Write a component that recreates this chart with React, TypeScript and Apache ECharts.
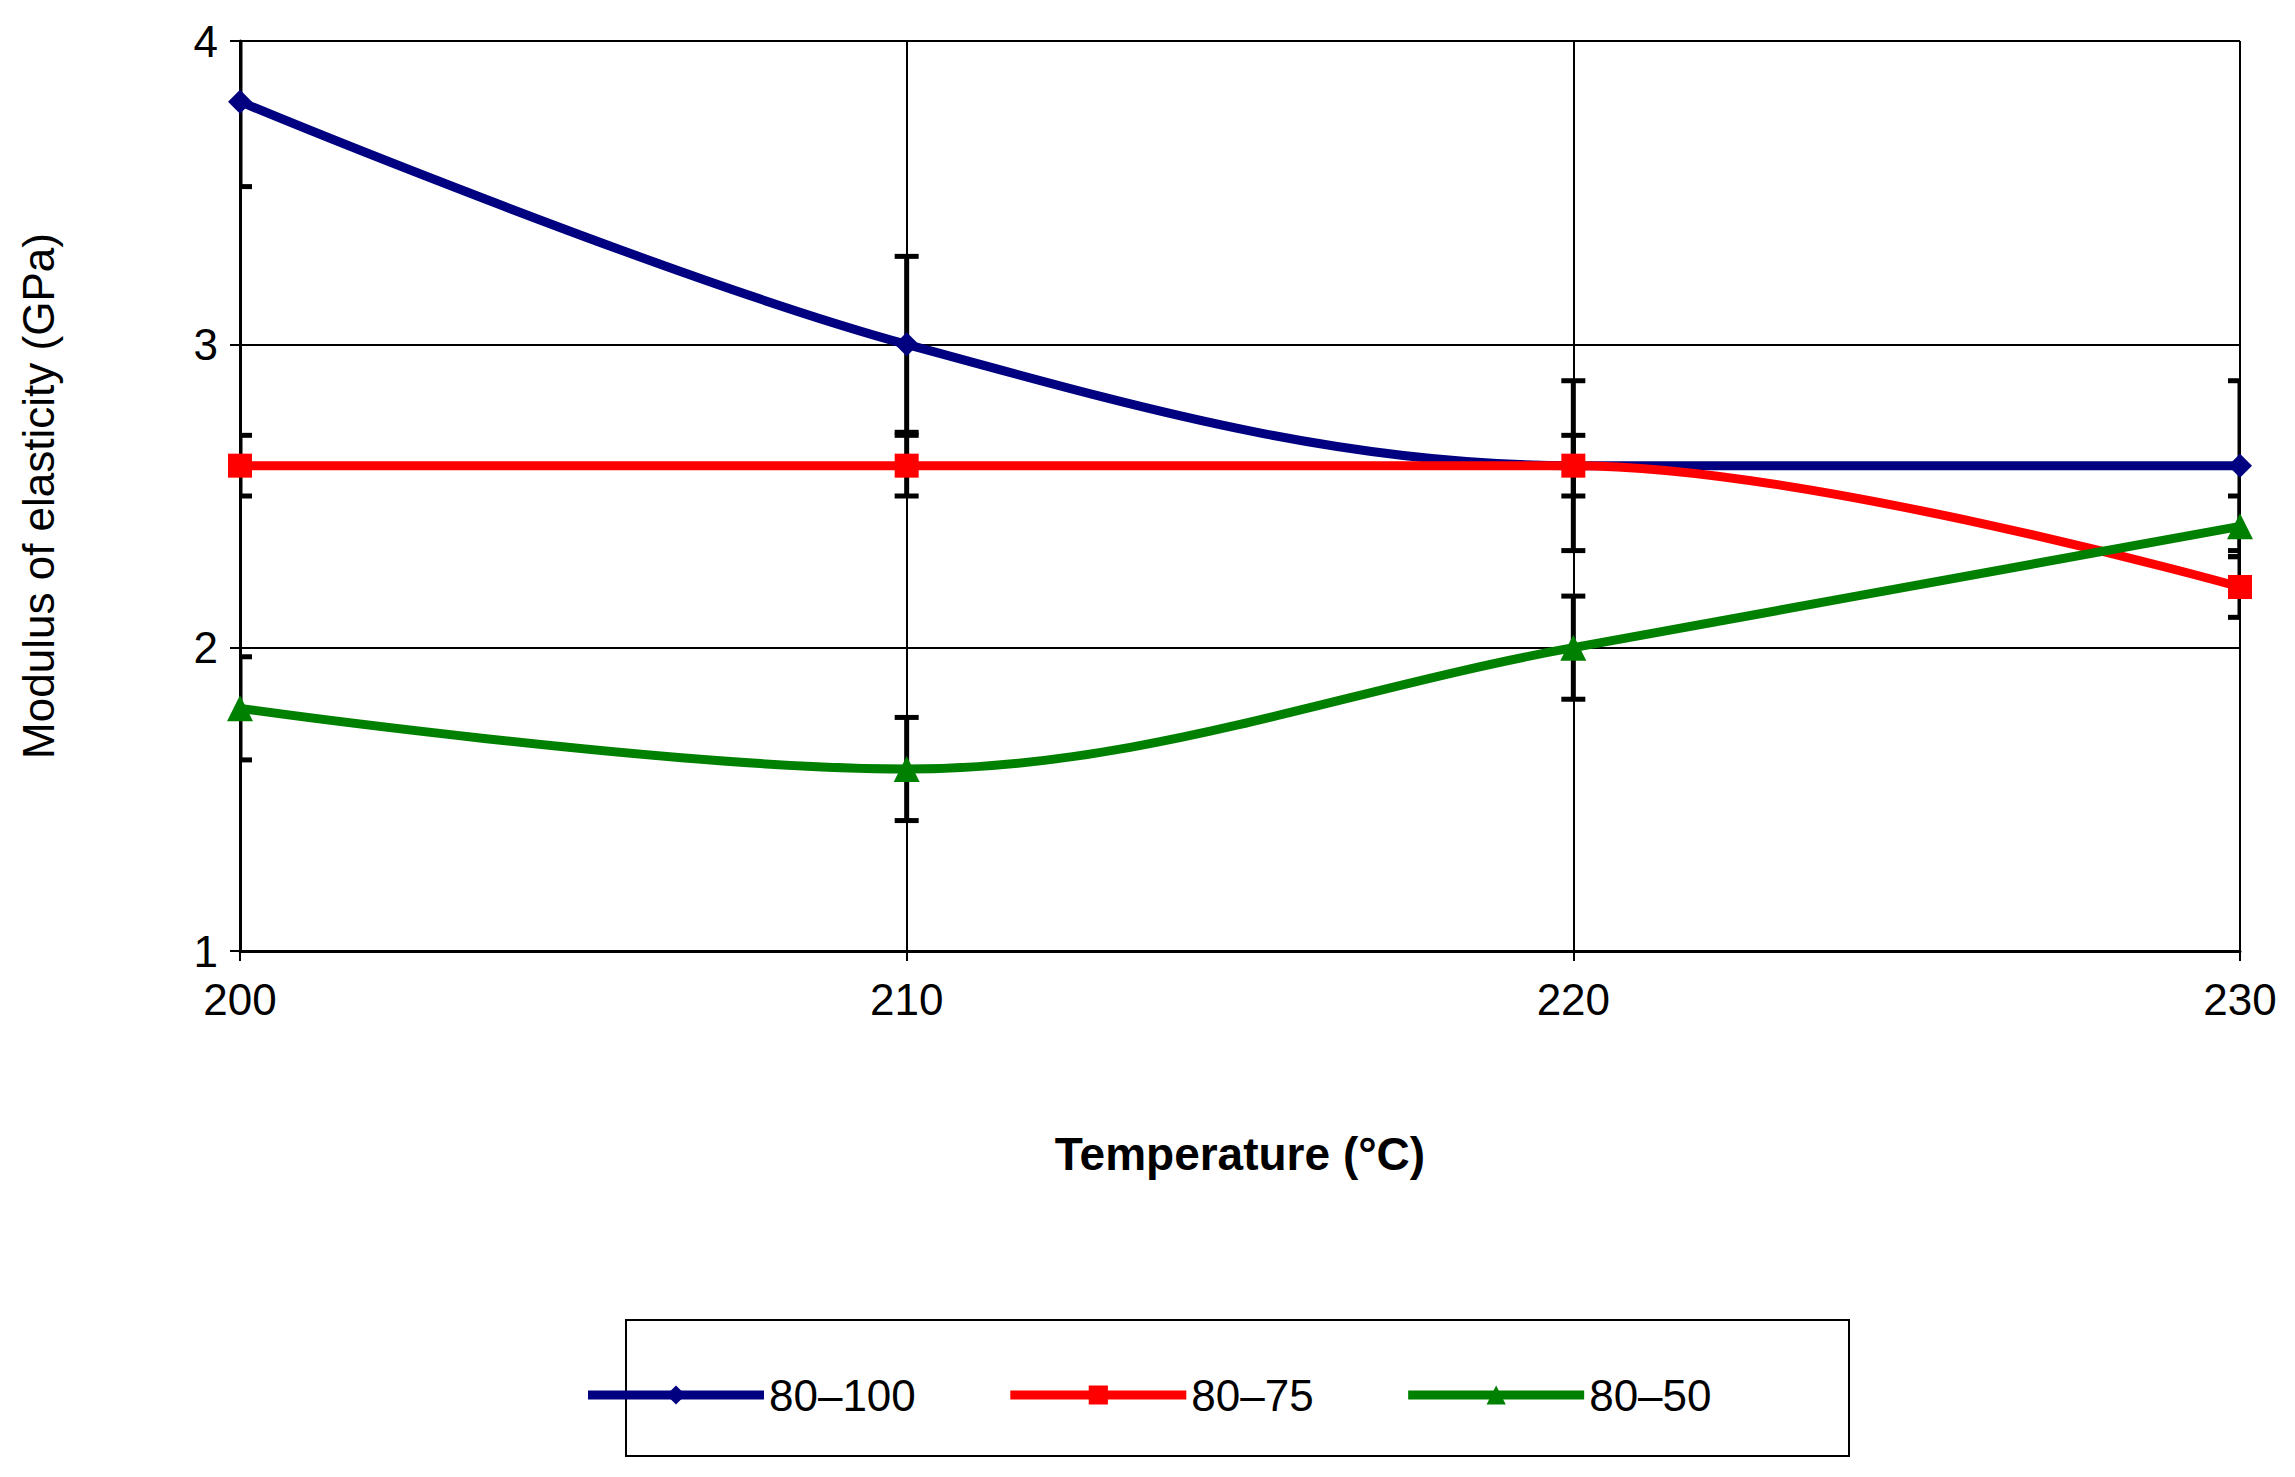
import React, { useEffect, useRef } from "react";
import * as echarts from "echarts";

const temps = [200, 210, 220, 230];
const seriesNames = ["80\u2013100", "80\u201375", "80\u201350"];
const blueValues = [3.8, 3.0, 2.6, 2.6];
const redValues = [2.6, 2.6, 2.6, 2.2];
const greenValues = [1.8, 1.6, 2.0, 2.4];
const blueErr = [0.28, 0.29, 0.28, 0.28];
const redErr = [0.1, 0.1, 0.1, 0.1];
const greenErr = [0.17, 0.17, 0.17, 0.1];

const App: React.FC = () => {
  const chartRef = useRef<HTMLDivElement>(null);

  useEffect(() => {
    if (!chartRef.current) return;
    const chart = echarts.init(chartRef.current, null, { renderer: "svg" });
    const font = "Liberation Sans, Arial, sans-serif";

    const errData: number[][] = [];
    [
      [blueValues, blueErr],
      [redValues, redErr],
      [greenValues, greenErr],
    ].forEach(([vals, errs]) => {
      temps.forEach((t, i) => errData.push([t, vals[i] - errs[i], vals[i] + errs[i]]));
    });

    const line = (name: string, vals: number[], color: string, symbol: string, size: number) => ({
      name,
      type: "line",
      smooth: 0.35,
      data: temps.map((t, i) => [t, vals[i]]),
      lineStyle: { color, width: 9 },
      itemStyle: { color },
      symbol,
      symbolSize: size,
      z: 3,
    });

    chart.setOption({
      animation: false,
      backgroundColor: "#fff",
      grid: { left: 226, right: 47, top: 33, height: 910 },
      xAxis: {
        type: "value",
        min: 200,
        max: 230,
        interval: 10,
        name: "Temperature (\u00b0C)",
        nameLocation: "middle",
        nameGap: 180,
        nameTextStyle: { fontFamily: font, fontSize: 46, fontWeight: "bold", color: "#000" },
        axisLine: { lineStyle: { color: "#000", width: 3 } },
        axisTick: { length: 10, lineStyle: { color: "#000", width: 2 } },
        axisLabel: { fontFamily: font, fontSize: 44, color: "#000", margin: 26 },
        splitLine: { show: true, lineStyle: { color: "#000", width: 2 } },
      },
      yAxis: {
        type: "value",
        min: 1,
        max: 4,
        interval: 1,
        name: "Modulus of elasticity (GPa)",
        nameLocation: "middle",
        nameGap: 180,
        nameTextStyle: { fontFamily: font, fontSize: 44, color: "#000" },
        axisLine: { show: true, lineStyle: { color: "#000", width: 3 } },
        axisTick: { show: true, length: 10, lineStyle: { color: "#000", width: 2 } },
        axisLabel: { fontFamily: font, fontSize: 44, color: "#000", margin: 22 },
        splitLine: { show: true, lineStyle: { color: "#000", width: 2 } },
      },
      legend: {
        data: seriesNames,
        left: "center",
        top: 1360,
        itemWidth: 176,
        itemHeight: 24,
        itemGap: 90,
        lineStyle: { width: 9 },
        textStyle: { fontFamily: font, fontSize: 44, color: "#000" },
      },
      graphic: [
        {
          type: "rect",
          shape: { x: 618, y: 1312, width: 1223, height: 136 },
          style: { fill: "none", stroke: "#000", lineWidth: 2 },
        },
      ],
      series: [
        {
          type: "custom",
          z: 1,
          data: errData,
          renderItem: (params: any, api: any) => {
            const x = api.value(0);
            const lo = api.coord([x, api.value(1)]);
            const hi = api.coord([x, api.value(2)]);
            const w = 12;
            const st = { stroke: "#000", lineWidth: 5 };
            return {
              type: "group",
              children: [
                { type: "line", shape: { x1: lo[0], y1: lo[1], x2: hi[0], y2: hi[1] }, style: st },
                { type: "line", shape: { x1: lo[0] - w, y1: lo[1], x2: lo[0] + w, y2: lo[1] }, style: st },
                { type: "line", shape: { x1: hi[0] - w, y1: hi[1], x2: hi[0] + w, y2: hi[1] }, style: st },
              ],
            };
          },
          clip: true,
        },
        line(seriesNames[0], blueValues, "#000080", "diamond", 24),
        line(seriesNames[1], redValues, "#ff0000", "rect", 24),
        line(seriesNames[2], greenValues, "#008000", "triangle", 26),
      ],
    });

    return () => chart.dispose();
  }, []);

  return <div ref={chartRef} style={{ width: 2279, height: 1461 }} />;
};

export default App;
